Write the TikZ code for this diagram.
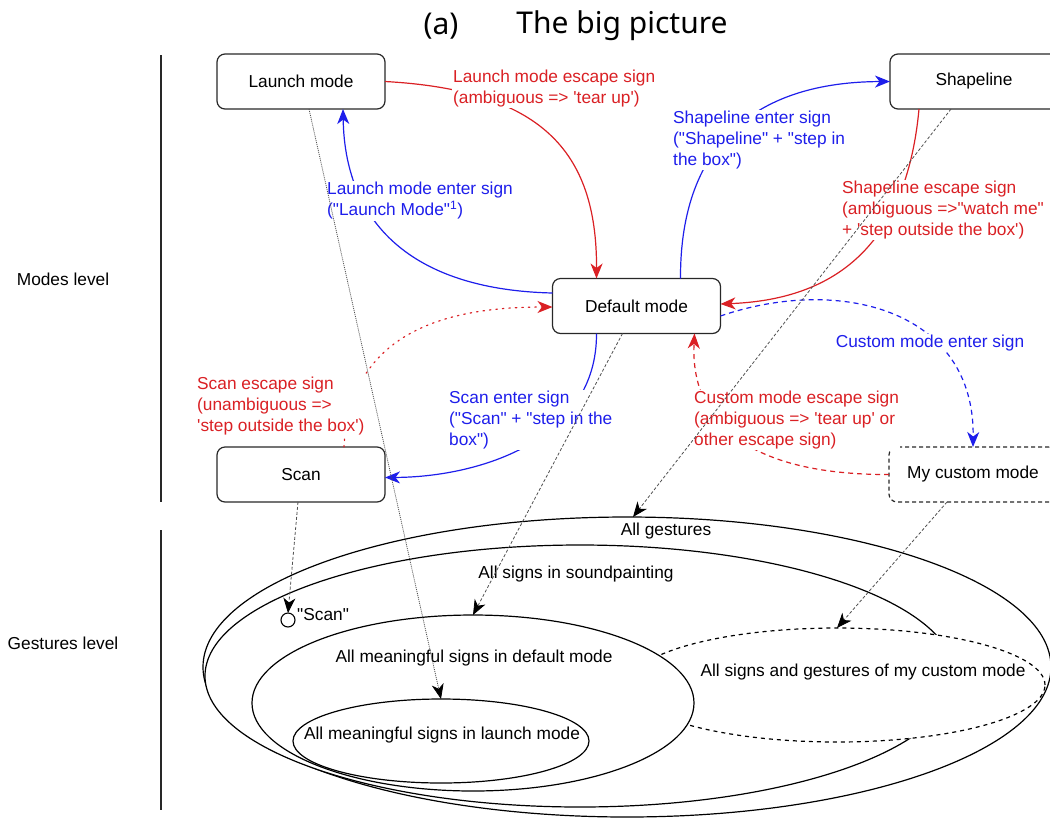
\documentclass[tikz,border=0pt]{standalone}
\usepackage{fontspec}
\newfontfamily\arialf{Liberation Sans}
\newfontfamily\titlef{Noto Sans}
\usetikzlibrary{arrows.meta,shapes.geometric,calc}
\definecolor{myred}{RGB}{218,32,36}
\definecolor{myblue}{RGB}{30,30,235}
\definecolor{boxline}{RGB}{40,40,40}
\definecolor{conn}{RGB}{80,80,80}
\begin{document}
\begin{tikzpicture}[x=1pt,y=-1pt,
  font=\arialf\fontsize{17.3}{21}\selectfont,
  modebox/.style={draw=boxline,line width=1.2pt,rounded corners=8pt,minimum width=168pt,minimum height=55pt,inner sep=0pt,outer sep=0pt,fill=white},
  setell/.style={draw=black,line width=1.2pt,ellipse,inner sep=0pt,outer sep=0pt,fill=white},
  lab/.style={align=left,anchor=west,inner sep=1pt,fill=white},
  myarrow/.style={-{Stealth[length=15pt,width=12pt,inset=4.5pt]}},
  redc/.style={draw=myred,line width=1.2pt,myarrow,fill=none},
  bluec/.style={draw=myblue,line width=1.2pt,myarrow,fill=none},
  blackc/.style={draw=conn,line width=0.8pt,dash pattern=on 3pt off 2pt,-{Stealth[length=15pt,width=12pt,inset=4.5pt,color=black]}},
  dottedc/.style={draw=conn,line width=0.8pt,dash pattern=on 1pt off 1pt,-{Stealth[length=15pt,width=12pt,inset=4.5pt,color=black]}},
  dashc/.style={dash pattern=on 5pt off 4pt},
  dotc/.style={dash pattern=on 1.5pt off 5pt,line cap=round}
]
\useasboundingbox (0,0) rectangle (1050,823);

% title
\node[font=\titlef\fontsize{30}{36}\selectfont] (ta) at (441,26) {(a)};
\node[font=\titlef\fontsize{30}{36}\selectfont] (tb) at (622,26) {The big picture};

% level separators and labels
\draw[line width=1.2pt,boxline] (161,55) -- (161,502);
\draw[line width=1.2pt,boxline] (161,530) -- (161,810);
\node (ml) at (63,279) {Modes level};
\node (gl) at (63,643) {Gestures level};

% ellipses (sets)
\node[setell,minimum width=848pt,minimum height=300pt] (gest) at (627,667) {};
\node[setell,minimum width=750pt,minimum height=262pt] (sp) at (580,676) {};
\node[setell,dash pattern=on 4pt off 4pt,minimum width=416pt,minimum height=114pt] (custell) at (837,685) {};
\node[setell,minimum width=442pt,minimum height=176pt] (defell) at (473,703) {};
\node[setell,minimum width=296pt,minimum height=84pt] (launchell) at (441,741) {};

\node (tgest) at (666,531) {All gestures};
\node (tsp) at (576,574) {All signs in soundpainting};
\node (tdef) at (474,658) {All meaningful signs in default mode};
\node (tlaunch) at (442,735) {All meaningful signs in launch mode};
\node (tcust) at (863,672) {All signs and gestures of my custom mode};
\node[draw=black,line width=1.1pt,circle,minimum size=14pt,inner sep=0pt,outer sep=0pt,fill=white] (scanc) at (288,620) {};
\node[anchor=west,inner sep=1pt] (tscan) at (296,615) {"Scan"};

% mode boxes
\node[modebox] (launch) at (301,81.5) {Launch mode};
\node[modebox] (shape) at (974,81.5) {Shapeline};
\node[modebox] (def) at (636.5,306) {Default mode};
\node[modebox] (scan) at (301,474.5) {Scan};
\node[modebox,dash pattern=on 4pt off 3pt] (cust) at (973,474.5) {My custom mode};

% coloured transitions
\draw[redc] (launch.east) .. controls (540,90) and (597,150) .. ([xshift=-40pt]def.north);
\draw[bluec] ([yshift=13pt]def.west) .. controls (420,290) and (345,230) .. ([xshift=42pt]launch.south);
\draw[bluec] ([xshift=44pt]def.north) .. controls (680,140) and (760,82) .. (shape.west);
\draw[redc] ([xshift=-55pt]shape.south) .. controls (905,260) and (820,300) .. ([yshift=2pt]def.east);
\draw[bluec] ([xshift=-40pt]def.south) .. controls (597,440) and (480,477) .. ([yshift=-3pt]scan.east);
\draw[redc,dotc] ([xshift=43pt]scan.north) .. controls (350,330) and (450,307) .. ([yshift=-1pt]def.west);
\draw[bluec,dashc] ([yshift=-10pt]def.east) .. controls (840,275) and (975,310) .. (cust.north);
\draw[redc,dashc] (cust.west) .. controls (760,475) and (690,430) .. ([xshift=58pt]def.south);

% labels
\node[lab,text=myred] (l1) at (452,88.5) {Launch mode escape sign\\(ambiguous => 'tear up')};
\node[lab,text=myblue] (l2) at (326,201) {Launch mode enter sign\\("Launch Mode"\textsuperscript{1})};
\node[lab,text=myblue] (l3) at (672,140) {Shapeline enter sign\\("Shapeline" + "step in\\the box")};
\node[lab,text=myred] (l4) at (841,210) {Shapeline escape sign\\(ambiguous =>"watch me"\\+ 'step outside the box')};
\node[lab,text=myblue] (l5) at (448,420) {Scan enter sign\\("Scan" + "step in the\\box")};
\node[lab,text=myred] (l6) at (196,406) {Scan escape sign\\(unambiguous =>\\'step outside the box')};
\node[inner sep=1pt,fill=white,text=myblue] (l7) at (930,343) {Custom mode enter sign};
\node[lab,text=myred] (l8) at (693,420) {Custom mode escape sign\\(ambiguous => 'tear up' or\\other escape sign)};

% links from modes to gesture sets
\draw[dottedc] ([xshift=8pt]launch.south) -- (launchell.north);
\draw[blackc] ([xshift=-23pt]shape.south) -- ([xshift=6pt]gest.north);
\draw[blackc] ([xshift=-14pt]def.south) -- (defell.north);
\draw[blackc] ([xshift=-3pt]scan.south) -- (scanc.north);
\draw[blackc] ([xshift=-26pt]cust.south) -- (custell.north);
\end{tikzpicture}
\end{document}
